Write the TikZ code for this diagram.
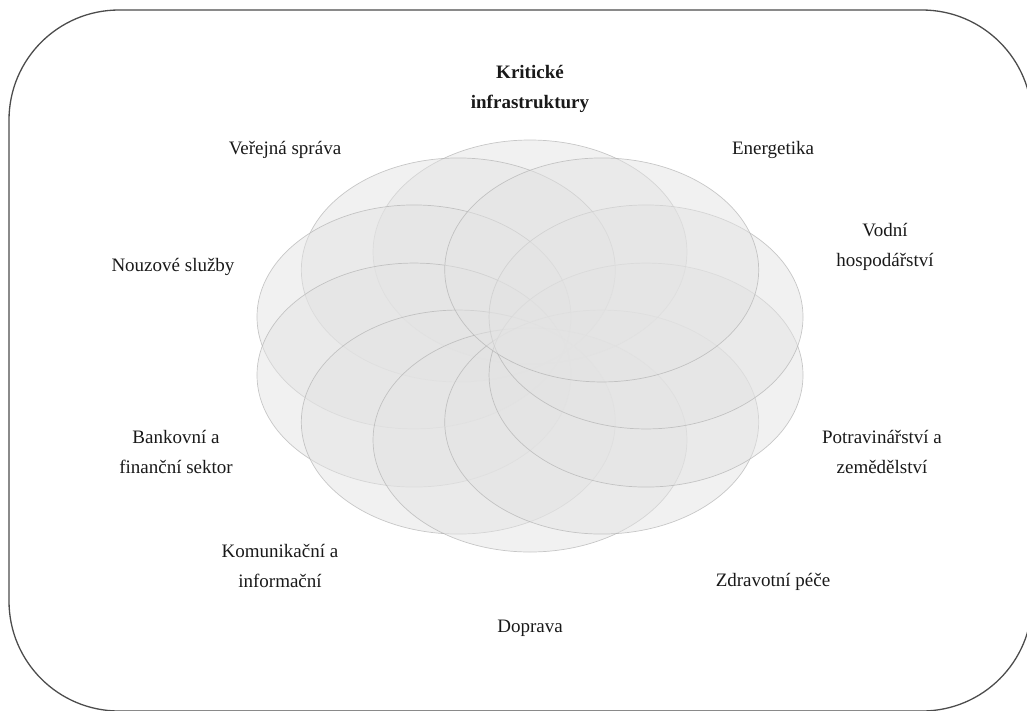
\documentclass[tikz,border=0pt]{standalone}
\usepackage{fontspec}
\setmainfont{Liberation Serif}
\begin{document}
\begin{tikzpicture}[x=1pt,y=-1pt,
  frame/.style={draw=black!70, line width=1.3pt, rounded corners=110pt},
  petal/.style={fill=black!11, fill opacity=0.5, draw=black!30, draw opacity=0.7, line width=0.7pt},
  lbl/.style={font=\fontsize{19}{30}\selectfont, align=center, text=black!90, inner sep=0pt},
  ttl/.style={lbl, font=\fontsize{19}{30}\selectfont\bfseries}]
\useasboundingbox (0,0) rectangle (1027,710);
\clip (0,0) rectangle (1027,710);
\draw[frame] (9,10) rectangle (1032,711);
\foreach \k in {0,...,9}{
  \pgfmathsetmacro\th{90+36*\k}
  \path[petal] ({530+122*cos(\th)},{346-94*sin(\th)}) ellipse [x radius=157pt, y radius=112pt];
}
\node[ttl] (title) at (530,89) {Kritické\\infrastruktury};
\node[lbl] (verejna) at (285,150) {Veřejná správa};
\node[lbl] (energ) at (773,150) {Energetika};
\node[lbl] (vodni) at (885,247) {Vodní\\hospodářství};
\node[lbl] (nouz) at (173,267) {Nouzové služby};
\node[lbl] (bank) at (176,452) {Bankovní a\\finanční sektor};
\node[lbl] (potr) at (882,452) {Potravinářství a\\zemědělství};
\node[lbl] (komu) at (280,566) {Komunikační a\\informační};
\node[lbl] (zdrav) at (773,582) {Zdravotní péče};
\node[lbl] (doprava) at (530,628) {Doprava};
\end{tikzpicture}
\end{document}
